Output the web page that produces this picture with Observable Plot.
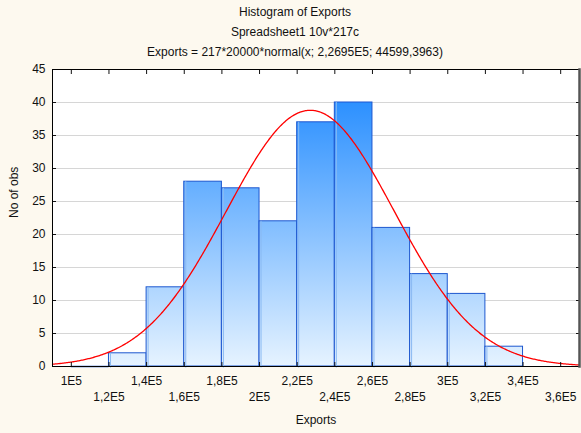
<!DOCTYPE html>
<html>
<head>
<meta charset="utf-8">
<script src="https://cdn.jsdelivr.net/npm/d3@7"></script>
<script src="https://cdn.jsdelivr.net/npm/@observablehq/plot@0.6"></script>
<style>
  body { margin: 0; background: #fdf9ef; font-family: "Liberation Sans", Arial, sans-serif; }
  #titles { width: 581px; height: 62px; box-sizing: border-box; padding-top: 2px; padding-left: 9px;
            text-align: center; font-size: 12px; color: #111; }
  #titles div { height: 20px; line-height: 20px; }
</style>
</head>
<body>
<div id="titles">
  <div>Histogram of Exports</div>
  <div>Spreadsheet1 10v*217c</div>
  <div>Exports = 217*20000*normal(x; 2,2695E5; 44599,3963)</div>
</div>
<div id="chart"></div>
<script>
// Histogram bins (lower edges) and observed counts
const binStarts = [100000, 120000, 140000, 160000, 180000, 200000, 220000, 240000, 260000, 280000, 300000, 320000];
const counts    = [0, 2, 12, 28, 27, 22, 37, 40, 21, 14, 11, 3];
const binWidth  = 20000;

// Fitted normal: 217*20000*normal(x; 2,2695E5; 44599,3963)
const nObs    = 217;
const fitMean = 226950;
const fitSd   = 44599.3963;

// Axis ticks and labels
const xTicks      = [100000, 120000, 140000, 160000, 180000, 200000, 220000, 240000, 260000, 280000, 300000, 320000, 340000, 360000];
const xTickLabels = ["1E5", "1,2E5", "1,4E5", "1,6E5", "1,8E5", "2E5", "2,2E5", "2,4E5", "2,6E5", "2,8E5", "3E5", "3,2E5", "3,4E5", "3,6E5"];
const yTicks      = [0, 5, 10, 15, 20, 25, 30, 35, 40, 45];

const bins = binStarts.map((x1, i) => ({x1, x2: x1 + binWidth, count: counts[i]}));
const xLabel = d => xTickLabels[xTicks.indexOf(d)];

const pdf = x => Math.exp(-0.5 * ((x - fitMean) / fitSd) ** 2) / (fitSd * Math.sqrt(2 * Math.PI));
const curve = d3.range(90000, 370001, 500).map(x => ({x, y: nObs * binWidth * pdf(x)}));

// Vertical gradient for the bars, spanning the whole y range of the plot
function barGradient(index, scales) {
  const ns = "http://www.w3.org/2000/svg";
  const defs = document.createElementNS(ns, "defs");
  const lg = document.createElementNS(ns, "linearGradient");
  lg.setAttribute("id", "barFill");
  lg.setAttribute("gradientUnits", "userSpaceOnUse");
  lg.setAttribute("x1", 0); lg.setAttribute("x2", 0);
  lg.setAttribute("y1", scales.y(45)); lg.setAttribute("y2", scales.y(0));
  [["0", "#1584ff"], ["1", "#e6f3ff"]].forEach(([o, c]) => {
    const s = document.createElementNS(ns, "stop");
    s.setAttribute("offset", o); s.setAttribute("stop-color", c);
    lg.appendChild(s);
  });
  defs.appendChild(lg);
  return defs;
}

const chart = Plot.plot({
  width: 581,
  height: 371,
  marginLeft: 52,
  marginRight: 2,
  marginTop: 7,
  marginBottom: 67,
  style: {background: "transparent", fontSize: "12px", fontFamily: "'Liberation Sans', Arial, sans-serif", color: "#111"},
  x: {domain: [90000, 370000]},
  y: {domain: [0, 45]},
  marks: [
    Plot.frame({fill: "white", stroke: null}),
    Plot.gridY(yTicks.slice(1, -1), {stroke: "#d6d6d6", strokeOpacity: 1}),
    barGradient,
    Plot.rectY(bins.filter(d => d.count > 0), {x1: "x1", x2: "x2", y: "count", fill: "url(#barFill)", stroke: "#1d57cf", strokeWidth: 1}),
    // light inner highlight along the left edge of each bar
    Plot.ruleX(bins.filter(d => d.count > 0), {x: "x1", y1: 0, y2: "count", dx: 1.5, insetTop: 1.5, stroke: "#8ab9f2", strokeWidth: 1}),
    Plot.ruleY(bins.filter(d => d.count === 0), {x1: "x1", x2: "x2", y: 0, stroke: "#1d57cf", strokeWidth: 1.5}),
    Plot.line(curve, {x: "x", y: "y", stroke: "#ff0000", strokeWidth: 1.3}),
    // inward tick marks on all four sides
    Plot.axisX({anchor: "bottom", ticks: xTicks, tickSize: -4, fill: "none", label: null}),
    Plot.axisX({anchor: "top", ticks: xTicks, tickSize: -4, fill: "none", label: null}),
    Plot.axisY({anchor: "right", ticks: yTicks, tickSize: -4, fill: "none", label: null}),
    Plot.axisY({anchor: "left", ticks: yTicks, tickSize: -4, tickPadding: 11, label: null}),
    // staggered x tick labels
    Plot.axisX(xTicks.filter((d, i) => i % 2 === 0), {tickSize: 0, tickPadding: 10, tickFormat: xLabel, label: null}),
    Plot.axisX(xTicks.filter((d, i) => i % 2 === 1), {tickSize: 0, tickPadding: 26, tickFormat: xLabel, label: null}),
    Plot.frame({stroke: "#000", strokeWidth: 1}),
    Plot.frame({anchor: "right", stroke: "#555", strokeWidth: 2.5}),
    Plot.text(["Exports"], {frameAnchor: "bottom", dy: 57}),
    Plot.text(["No of obs"], {frameAnchor: "left", rotate: -90, dx: -38})
  ]
});
document.getElementById("chart").appendChild(chart);
</script>
</body>
</html>
